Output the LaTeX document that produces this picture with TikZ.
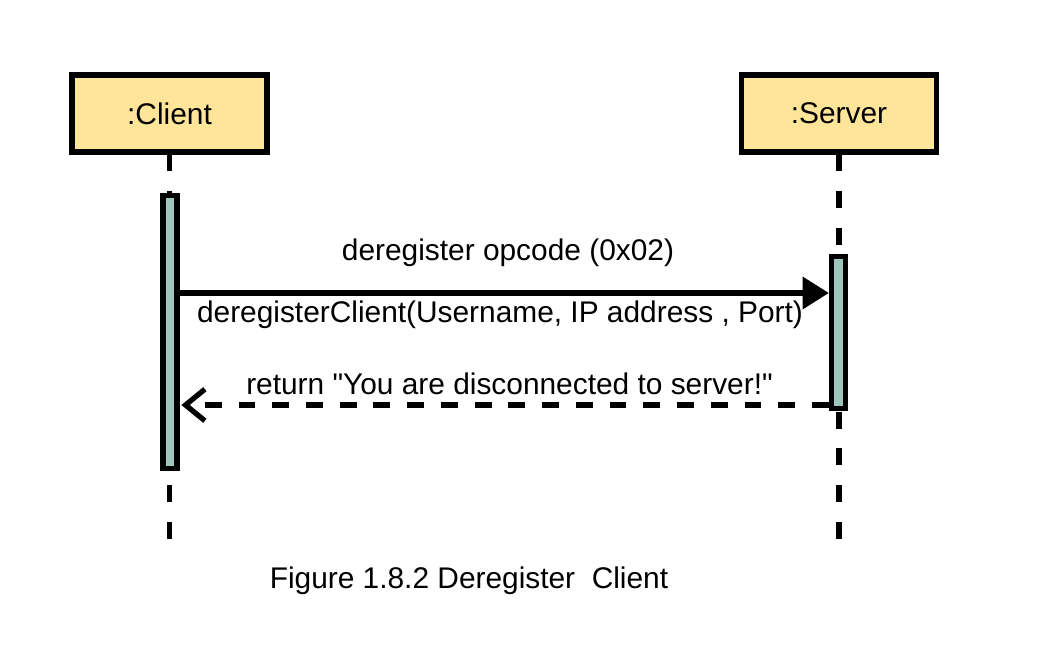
\documentclass[tikz,border=0pt]{standalone}
\usepackage{fontspec}
\setmainfont{Liberation Sans}
\usetikzlibrary{positioning,arrows.meta}
\definecolor{myyellow}{RGB}{255,229,153}
\definecolor{myteal}{RGB}{158,198,189}

\begin{document}
\begin{tikzpicture}[x=0.02cm,y=-0.02cm,
  font=\fontsize{17}{20}\selectfont,
  objbox/.style={draw,fill=myyellow,line width=3pt,minimum width=3.9cm,minimum height=1.54cm,inner sep=0pt},
  actbox/.style={draw,fill=myteal,line width=3pt,minimum width=0.28cm,inner sep=0pt},
  lifeline/.style={line width=3pt,dash pattern=on 9.6pt off 11.3pt},
  msgcall/.style={line width=3pt,-{Triangle[length=15pt,width=18pt]}},
  msgreturn/.style={line width=3pt,dash pattern=on 9.6pt off 9.6pt,-{Straight Barb[length=11pt,width=18pt]}}
]
\useasboundingbox (0,0) rectangle (1039,672);

% the objects
\node[objbox] (client) at (169.5,113.5) {:Client};
\node[objbox] (server) at (839,113.5) {:Server};

% the lifelines
\coordinate (clientend) at (169.5,553);
\coordinate (serverend) at (839,553);
\draw[lifeline] (client.south) -- (clientend);
\draw[lifeline] (server.south) -- (serverend);

% the activations
\node[actbox,minimum height=5.45cm] (clientact) at (170,332) {};
\node[actbox,minimum height=3.04cm] (serveract) at (838.5,332.5) {};

% the messages
\draw[msgcall] (clientact.east |- 0,293) -- (serveract.west |- 0,293);
\draw[msgreturn] (serveract.west |- 0,405) -- ([xshift=1pt]clientact.east |- 0,405);

% the labels
\node (opcode) at (508,253) {deregister opcode (0x02)};
\node (callname) at (500,315) {deregisterClient(Username, IP address , Port)};
\node (retname) at (509.5,384) {return \textquotedbl You are disconnected to server!\textquotedbl};

% the caption
\node (caption) at (469,581) {Figure 1.8.2 Deregister\ \ Client};
\end{tikzpicture}
\end{document}
